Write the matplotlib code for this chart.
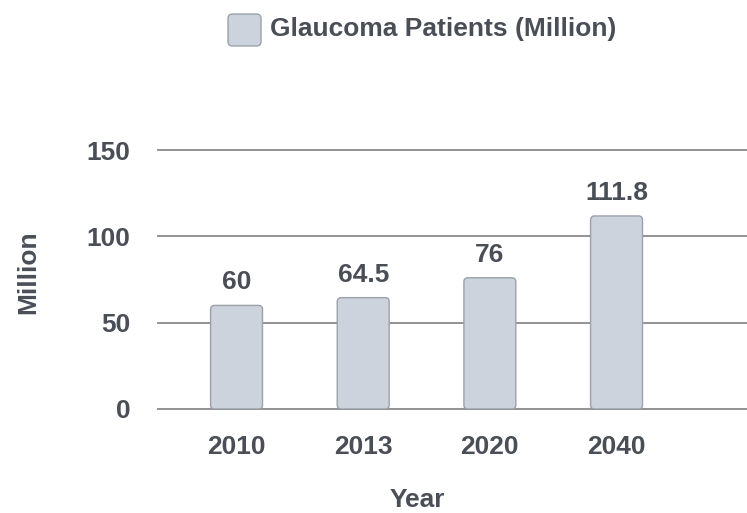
import matplotlib
matplotlib.use("Agg")
import matplotlib.pyplot as plt
from matplotlib.patches import FancyBboxPatch

years = ["2010", "2013", "2020", "2040"]
patients = [60, 64.5, 76, 111.8]
value_labels = ["60", "64.5", "76", "111.8"]
yticks = [0, 50, 100, 150]
series_name = "Glaucoma Patients (Million)"

TEXT = "#4a4e57"
BAR = "#cdd3dc"
EDGE = "#9ba1ab"
GRID = "#8a8a8a"
FS = 19

plt.rcParams["font.family"] = ["Liberation Sans", "DejaVu Sans"]

fig = plt.figure(figsize=(7.47, 5.13), dpi=100)
ax = fig.add_axes([158 / 747, 1 - 409 / 513, 589 / 747, 259 / 513])
ax.set_xlim(-0.62, 4.03)
ax.set_ylim(0, 150)

for y in yticks:
    ax.axhline(y, color=GRID, lw=1.3, zorder=1, clip_on=False)

width = 0.41
x = list(range(len(years)))
# rounded bars: rounding radius ~4 px in each direction
rx = 0.032
aspect = (150 / 259) / (4.65 / 589)
for xi, v, lab in zip(x, patients, value_labels):
    p = FancyBboxPatch((xi - width / 2, 0), width, v,
                       boxstyle=f"round,pad=0,rounding_size={rx}",
                       mutation_aspect=aspect,
                       fc=BAR, ec=EDGE, lw=1.0, zorder=2)
    ax.add_patch(p)
    ax.annotate(lab, (xi, v), xytext=(0, 8), textcoords="offset points",
                ha="center", va="bottom", fontsize=FS, fontweight="bold",
                color=TEXT)

ax.set_xticks(x)
ax.set_xticklabels(years)
ax.set_yticks(yticks)
ax.tick_params(axis="both", length=0, labelsize=FS, labelcolor=TEXT)
ax.tick_params(axis="y", pad=20)
ax.tick_params(axis="x", pad=19)
for t in ax.get_xticklabels() + ax.get_yticklabels():
    t.set_fontweight("bold")
for s in ax.spines.values():
    s.set_visible(False)

fig.text(417 / 747, 1 - 500 / 513, "Year", ha="center", va="center",
         fontsize=FS, fontweight="bold", color=TEXT)
fig.text(28 / 747, 1 - 272 / 513, "Million", ha="center", va="center",
         rotation=90, fontsize=FS, fontweight="bold", color=TEXT)

# legend
sw = FancyBboxPatch((228 / 747, 1 - 46 / 513), 33 / 747, 32 / 513,
                    boxstyle="round,pad=0,rounding_size=0.006",
                    mutation_aspect=747 / 513,
                    transform=fig.transFigure, fc=BAR, ec=EDGE, lw=1.0)
fig.patches.append(sw)
fig.text(270 / 747, 1 - 29 / 513, series_name, ha="left", va="center",
         fontsize=FS, fontweight="bold", color=TEXT)

fig.savefig("out.png", dpi=100)
